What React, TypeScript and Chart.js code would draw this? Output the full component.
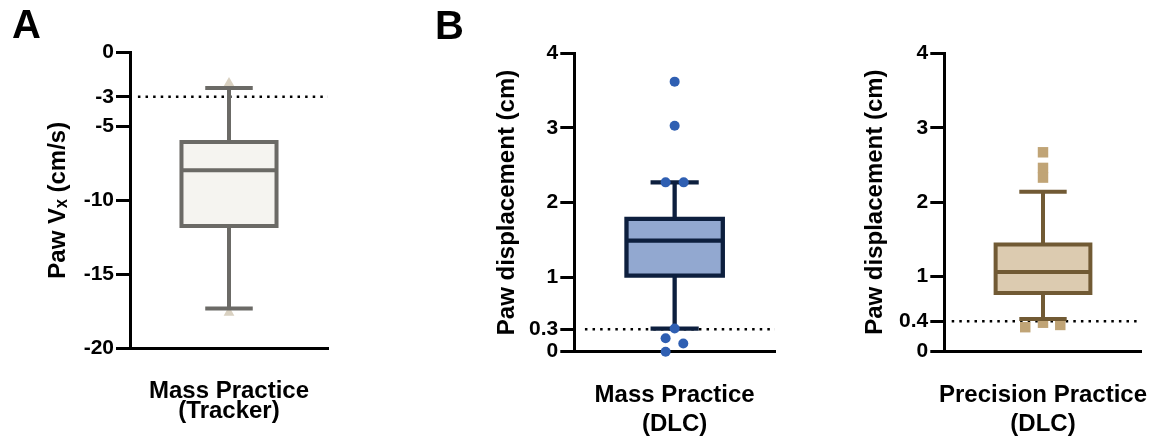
import React, { useEffect, useRef } from 'react';
import Chart from 'chart.js/auto';

const FAMILY = "'Liberation Sans', Arial, Helvetica, sans-serif";

// ---------- Panel A: Mass Practice (Tracker) ----------
const aXLabel = ['Mass Practice', '(Tracker)'];
const aYTitle = 'Paw V\u2093 (cm/s)';
const aStats = [-17.33, -11.74, -7.97, -6.05, -2.4]; // min, q1, median, q3, max
const aPointsY = [-2.08, -17.6];
const aPointsX = [0, 0];
const aRef = -3;
const aTicks = [0, -3, -5, -10, -15, -20];
const aRange = [-20, 0];

// ---------- Panel B1: Mass Practice (DLC) ----------
const b1XLabel = ['Mass Practice', '(DLC)'];
const b1YTitle = 'Paw displacement (cm)';
const b1Stats = [0.31, 1.02, 1.49, 1.78, 2.27];
const b1PointsY = [3.62, 3.03, 2.27, 2.27, 0.31, 0.18, 0.11, 0.0];
const b1PointsX = [0, 0, -0.09, 0.09, 0, -0.09, 0.086, -0.09];
const b1Ref = 0.3;
const b1Ticks = [0, 0.3, 1, 2, 3, 4];
const b1Range = [0, 4];

// ---------- Panel B2: Precision Practice (DLC) ----------
const b2XLabel = ['Precision Practice', '(DLC)'];
const b2YTitle = 'Paw displacement (cm)';
const b2Stats = [0.43, 0.78, 1.06, 1.43, 2.14];
const b2PointsY = [2.67, 2.46, 2.33, 0.32, 0.38, 0.35];
const b2PointsX = [0, 0, 0, -0.18, 0, 0.175];
const b2Ref = 0.4;
const b2Ticks = [0, 0.4, 1, 2, 3, 4];
const b2Range = [0, 4];

type PanelCfg = {
  left: number;
  width: number;
  padLeft: number;
  padRight: number;
  padTop: number;
  letter: string | null;
  letterPadTop: number;
  letterPadBottom: number;
  areaLeft: number;
  areaBottom: number;
  xLabel: string[];
  xLineHeight: number;
  xTickPad: number;
  yTitle: string;
  yTitlePad: number;
  stats: number[];
  pointsX: number[];
  pointsY: number[];
  ref: number;
  refStart: number;
  ticks: number[];
  range: number[];
  stroke: string;
  fill: string;
  pointColor: string;
  pointStyle: string;
  pointRadius: number;
  pointsOnTop: boolean;
  lineWidth: number;
};

const panels: PanelCfg[] = [
  {
    left: 0, width: 345, padLeft: 12, padRight: 17, padTop: 0,
    letter: 'A', letterPadTop: 3, letterPadBottom: 1.5,
    areaLeft: 130, areaBottom: 348,
    xLabel: aXLabel, xLineHeight: 0.84, xTickPad: 33,
    yTitle: aYTitle, yTitlePad: 31.6,
    stats: aStats, pointsX: aPointsX, pointsY: aPointsY, ref: aRef, refStart: 0.08,
    ticks: aTicks, range: aRange,
    stroke: '#6b6a66', fill: '#f5f4f0', pointColor: '#d9d1c1', pointStyle: 'triangle', pointRadius: 6.2,
    pointsOnTop: false, lineWidth: 4,
  },
  {
    left: 420, width: 380, padLeft: 15, padRight: 25, padTop: 0,
    letter: 'B', letterPadTop: 3.5, letterPadBottom: 1.8,
    areaLeft: 574.3, areaBottom: 351.7,
    xLabel: b1XLabel, xLineHeight: 1.2, xTickPad: 29,
    yTitle: b1YTitle, yTitlePad: 57.6,
    stats: b1Stats, pointsX: b1PointsX, pointsY: b1PointsY, ref: b1Ref, refStart: 0.106,
    ticks: b1Ticks, range: b1Range,
    stroke: '#0d1f3e', fill: '#92a8d0', pointColor: '#2f5fb2', pointStyle: 'circle', pointRadius: 5,
    pointsOnTop: true, lineWidth: 4.3,
  },
  {
    left: 820, width: 333, padLeft: 0, padRight: 11.3, padTop: 53.3,
    letter: null, letterPadTop: 0, letterPadBottom: 0,
    areaLeft: 944.3, areaBottom: 351,
    xLabel: b2XLabel, xLineHeight: 1.2, xTickPad: 30.4,
    yTitle: b2YTitle, yTitlePad: 41.4,
    stats: b2Stats, pointsX: b2PointsX, pointsY: b2PointsY, ref: b2Ref, refStart: 0.075,
    ticks: b2Ticks, range: b2Range,
    stroke: '#715a34', fill: '#dccbb0', pointColor: '#c0a476', pointStyle: 'rect', pointRadius: 7.4,
    pointsOnTop: false, lineWidth: 4,
  },
];

const CENTER = 1;
const BOX_HALF = 0.48;
const CAP_HALF = 0.24;

function buildDatasets(c: PanelCfg) {
  const [mn, q1, md, q3, mx] = c.stats;
  const seg = (data: { x: number; y: number }[], order: number, extra: any = {}) => ({
    data,
    showLine: true,
    pointRadius: 0,
    borderColor: c.stroke,
    borderWidth: c.lineWidth,
    borderCapStyle: 'butt',
    clip: false,
    fill: false,
    order,
    ...extra,
  });
  const L = CENTER - BOX_HALF;
  const R = CENTER + BOX_HALF;
  return [
    // reference line (dotted)
    seg([{ x: c.refStart, y: c.ref }, { x: 2, y: c.ref }], 20, {
      borderColor: '#000',
      borderWidth: 2.5,
      borderDash: [2.5, 5.1],
    }),
    // box fill: bottom edge then top edge filled to previous dataset
    seg([{ x: L, y: q1 }, { x: R, y: q1 }], 16, { borderColor: 'transparent', borderWidth: 0 }),
    seg([{ x: L, y: q3 }, { x: R, y: q3 }], 15, {
      borderColor: 'transparent',
      borderWidth: 0,
      fill: '-1',
      backgroundColor: c.fill,
    }),
    // box outline
    seg(
      [
        { x: L, y: q1 },
        { x: R, y: q1 },
        { x: R, y: q3 },
        { x: L, y: q3 },
        { x: L, y: q1 },
      ],
      5,
      { borderCapStyle: 'square', borderJoinStyle: 'miter' }
    ),
    // median
    seg([{ x: L, y: md }, { x: R, y: md }], 4),
    // whiskers
    seg([{ x: CENTER, y: q3 }, { x: CENTER, y: mx }], 3),
    seg([{ x: CENTER - CAP_HALF, y: mx }, { x: CENTER + CAP_HALF, y: mx }], 3),
    seg([{ x: CENTER, y: q1 }, { x: CENTER, y: mn }], 3),
    seg([{ x: CENTER - CAP_HALF, y: mn }, { x: CENTER + CAP_HALF, y: mn }], 3),
    // individual points
    {
      data: c.pointsY.map((y, i) => ({ x: CENTER + c.pointsX[i], y })),
      showLine: false,
      pointStyle: c.pointStyle,
      pointRadius: c.pointRadius,
      pointBackgroundColor: c.pointColor,
      pointBorderWidth: 0,
      clip: false,
      order: c.pointsOnTop ? 0 : 12,
    },
  ];
}

function Panel({ cfg }: { cfg: PanelCfg }) {
  const ref = useRef<HTMLCanvasElement>(null);
  useEffect(() => {
    const c = cfg;
    const chart = new Chart(ref.current as HTMLCanvasElement, {
      type: 'line',
      data: { datasets: buildDatasets(c) as any },
      options: {
        responsive: false,
        animation: false,
        events: [],
        layout: { padding: { left: c.padLeft, right: c.padRight, top: c.padTop, bottom: 0 } },
        plugins: {
          legend: { display: false },
          tooltip: { enabled: false },
          title: {
            display: !!c.letter,
            text: c.letter || '',
            align: 'start',
            color: '#000',
            font: { family: FAMILY, size: 40, weight: 'bold', lineHeight: 1.2 },
            padding: { top: c.letterPadTop, bottom: c.letterPadBottom },
          },
        },
        scales: {
          x: {
            type: 'linear',
            min: 0,
            max: 2,
            afterBuildTicks: (s: any) => {
              s.ticks = [{ value: CENTER }];
            },
            grid: { display: false, drawTicks: false },
            ticks: {
              display: true,
              autoSkip: false,
              maxRotation: 0,
              minRotation: 0,
              padding: c.xTickPad,
              color: '#000',
              font: { family: FAMILY, size: 24, weight: 'bold', lineHeight: c.xLineHeight },
              callback: () => c.xLabel,
            },
            border: { display: true, color: '#000', width: 3 },
            afterFit: (s: any) => {
              s.height = 440 - c.areaBottom;
              s.paddingLeft = 0;
              s.paddingRight = 0;
            },
          },
          y: {
            type: 'linear',
            min: c.range[0],
            max: c.range[1],
            afterBuildTicks: (s: any) => {
              s.ticks = c.ticks.map((v) => ({ value: v }));
            },
            ticks: {
              autoSkip: false,
              color: '#000',
              padding: 2,
              font: { family: FAMILY, size: 21, weight: 'bold' },
              callback: (v: any) => String(v),
            },
            grid: {
              display: true,
              drawOnChartArea: false,
              drawTicks: true,
              tickLength: 14,
              tickWidth: 3,
              tickColor: '#000',
            },
            border: { display: true, color: '#000', width: 3 },
            title: {
              display: true,
              text: c.yTitle,
              color: '#000',
              font: { family: FAMILY, size: 24, weight: 'bold', lineHeight: 1.2 },
              padding: { top: c.yTitlePad, bottom: 0 },
            },
            afterFit: (s: any) => {
              s.width = c.areaLeft - c.left - c.padLeft;
            },
          },
        },
      } as any,
    });
    return () => chart.destroy();
  }, [cfg]);
  return (
    <canvas
      ref={ref}
      width={cfg.width}
      height={440}
      style={{ position: 'absolute', left: cfg.left, top: 0, width: cfg.width, height: 440 }}
    />
  );
}

export default function App() {
  return (
    <div
      style={{
        position: 'fixed',
        left: 0,
        top: 0,
        width: 1153,
        height: 440,
        background: '#fff',
        overflow: 'hidden',
      }}
    >
      {panels.map((p, i) => (
        <Panel key={i} cfg={p} />
      ))}
    </div>
  );
}
